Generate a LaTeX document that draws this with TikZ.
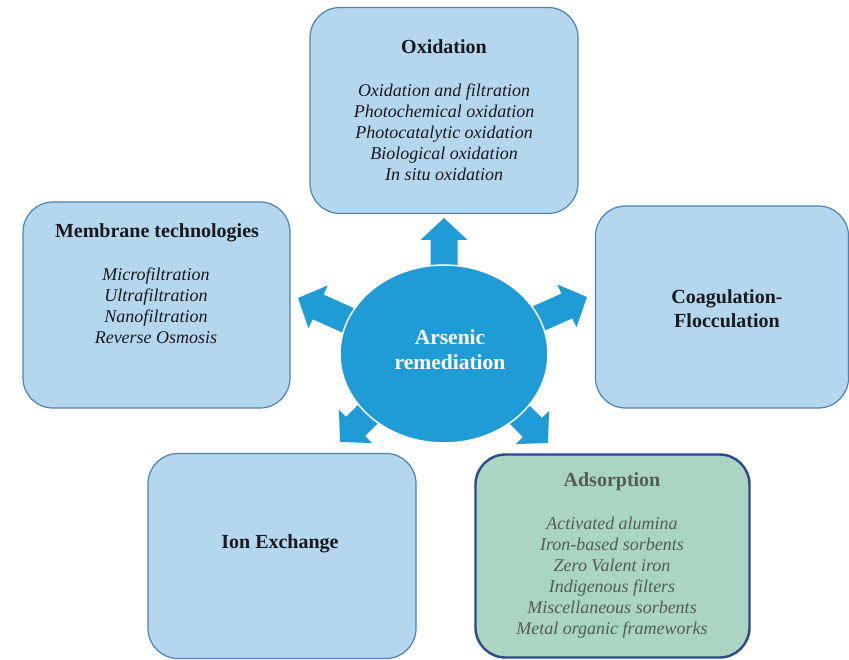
\documentclass[tikz,border=0pt]{standalone}
\usepackage{fontspec}
\setmainfont{Liberation Serif}
\usetikzlibrary{shapes.geometric}
\definecolor{boxfill}{RGB}{181,215,238}
\definecolor{boxline}{RGB}{78,130,176}
\definecolor{hub}{RGB}{31,156,214}
\definecolor{adsfill}{RGB}{170,213,195}
\definecolor{adsline}{RGB}{42,74,140}
\definecolor{adstext}{RGB}{80,94,82}
\definecolor{txt}{RGB}{25,25,30}
\tikzset{
  box/.style={draw=boxline, fill=boxfill, line width=1.2pt, rounded corners=30pt, inner sep=0pt},
  adsbox/.style={draw=adsline, fill=adsfill, line width=2.4pt, rounded corners=30pt, inner sep=0pt},
  title/.style={font=\bfseries\fontsize{20}{24}\selectfont, text=txt, align=center, inner sep=0pt},
  items/.style={font=\itshape\fontsize{18}{21}\selectfont, text=txt, align=center, inner sep=0pt},
  hubshape/.style={ellipse, fill=hub, draw=white, line width=1.5pt, inner sep=0pt},
  blockarrow/.style={fill=hub}
}
\begin{document}
\begin{tikzpicture}[x=1pt,y=-1pt]
\useasboundingbox (0,0) rectangle (849,660);
% boxes
\node[box, minimum width=268pt, minimum height=206pt] (ox) at (444,110.5) {};
\node[box, minimum width=267pt, minimum height=206pt] (mem) at (156.5,305) {};
\node[box, minimum width=253pt, minimum height=202pt] (coag) at (722,307) {};
\node[box, minimum width=268pt, minimum height=205pt] (ion) at (282,556) {};
\node[adsbox, minimum width=274pt, minimum height=203pt] (ads) at (612.5,556) {};
% block arrows
\foreach \tx/\ty/\ang in {444/218/90, 298/298/156, 587/297/24, 340/442/-135, 548/443/-45}{
  \fill[blockarrow, shift={(\tx,\ty)}, rotate=\ang]
    (0,0) -- (-22,23.5) -- (-22,13.5) -- (-72,13.5) -- (-72,-13.5) -- (-22,-13.5) -- (-22,-23.5) -- cycle;
}
% hub
\node[hubshape, minimum width=208pt, minimum height=178pt] (hub) at (444,354) {};
\node[font=\bfseries\fontsize{21.5}{25}\selectfont, text=white, align=center, inner sep=0pt] (hubT) at (450,349.5) {Arsenic\\remediation};
% texts
\node[title] (oxT) at (444,47) {Oxidation};
\node[items] (oxL) at (444,132.5) {Oxidation and filtration\\Photochemical oxidation\\Photocatalytic oxidation\\Biological oxidation\\In situ oxidation};
\node[title] (memT) at (157,233) {Membrane technologies};
\node[items] (memL) at (156,305.5) {Microfiltration\\Ultrafiltration\\Nanofiltration\\Reverse Osmosis};
\node[title] (coagT) at (727,308.5) {Coagulation-\\Flocculation};
\node[title] (ionT) at (280,544) {Ion Exchange};
\node[title, text=adstext] (adsT) at (612,482) {Adsorption};
\node[items, text=adstext] (adsL) at (612,577.5) {Activated alumina\\Iron-based sorbents\\Zero Valent iron\\Indigenous filters\\Miscellaneous sorbents\\Metal organic frameworks};
\end{tikzpicture}
\end{document}
